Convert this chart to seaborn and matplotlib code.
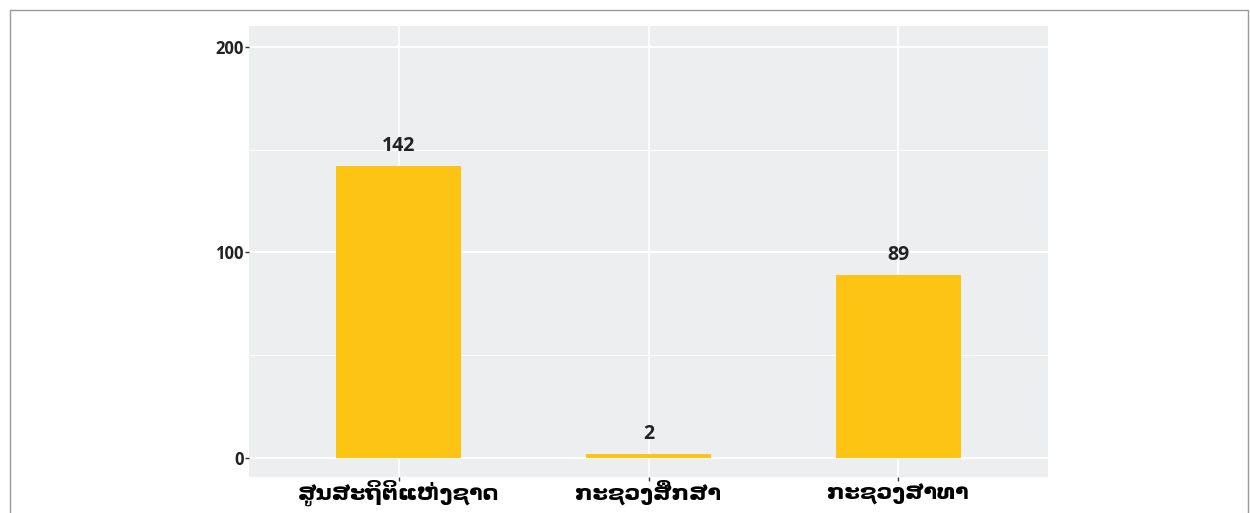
import matplotlib
matplotlib.use("Agg")
import matplotlib.pyplot as plt
import pandas as pd
import seaborn as sns
from matplotlib.patches import Rectangle

# data
agencies = ["ສູນສະຖິຕິແຫ່ງຊາດ", "ກະຊວງສຶກສາ", "ກະຊວງສາທາ"]
counts = [142, 2, 89]
y_ticks = [0, 100, 200]
y_minor = [50, 150]

sns.set_theme(style="darkgrid")
plt.rcParams["font.family"] = ["Open Sans", "DejaVu Sans"]

df = pd.DataFrame({"agency": agencies, "count": counts})

fig = plt.figure(figsize=(12.5, 5.13), dpi=100)
ax = fig.add_axes([249 / 1250, 36 / 513, 799 / 1250, 451 / 513])
ax.set_facecolor("#EDEEF0")

sns.barplot(data=df, x="agency", y="count", color="#FDC413", width=0.5,
            saturation=1, linewidth=0, ax=ax, zorder=3)

for i, v in enumerate(counts):
    ax.text(i, v + 5, str(v), ha="center", va="bottom", fontsize=14,
            fontweight="bold", color="#222222", zorder=4)

ax.set_xlim(-0.6, 2.6)
ax.set_ylim(-9.3, 210.2)
ax.set_yticks(y_ticks)
ax.set_yticks(y_minor, minor=True)
ax.grid(True, which="major", color="white", linewidth=1.3, zorder=0)
ax.grid(True, which="minor", axis="y", color="white", linewidth=0.7, zorder=0)
ax.set_axisbelow(True)
for s in ax.spines.values():
    s.set_visible(False)

ax.tick_params(axis="y", which="major", length=3, width=1, color="#333333",
               labelsize=12, labelcolor="#222222", left=True, pad=1)
ax.tick_params(axis="y", which="minor", length=0)
ax.tick_params(axis="x", length=3, width=1, color="#333333", bottom=True,
               pad=13.5)
for lab in ax.get_yticklabels():
    lab.set_fontweight("bold")
ax.set_xticks(range(len(agencies)))
ax.set_xticklabels(agencies, fontsize=16, fontweight="bold", color="black",
                   family=["DejaVu Sans"], va="baseline")
ax.set_xlabel("")
ax.set_ylabel("")

fig.patches.append(Rectangle((10 / 1250, -0.1), 1238 / 1250, 1.1 - 10 / 513,
                             transform=fig.transFigure, fill=False,
                             edgecolor="#999999", linewidth=1))

fig.savefig("out.png", dpi=100)
